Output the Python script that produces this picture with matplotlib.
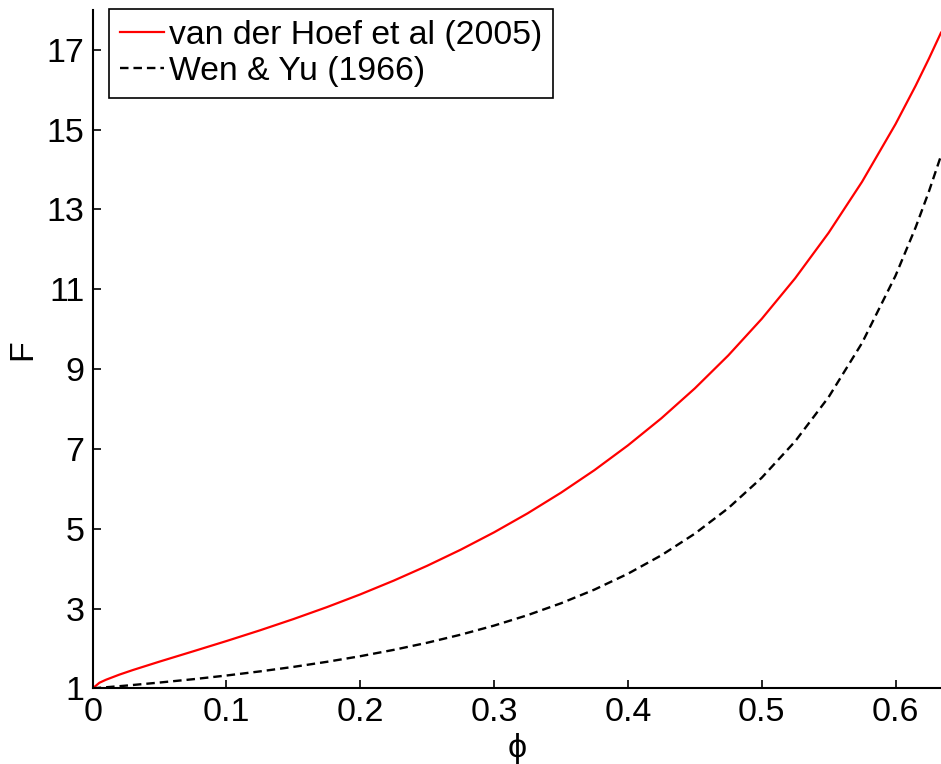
import numpy as np
import matplotlib.pyplot as plt

plt.rcParams['font.family'] = ['Liberation Sans', 'DejaVu Sans']

# Volume fraction values
phi = [0, 0.005, 0.01, 0.02, 0.03, 0.05, 0.075, 0.1, 0.125, 0.15, 0.175, 0.2,
       0.225, 0.25, 0.275, 0.3, 0.325, 0.35, 0.375, 0.4, 0.425, 0.45, 0.475,
       0.5, 0.525, 0.55, 0.575, 0.6, 0.615, 0.625, 0.634]

# Drag force ratio, van der Hoef et al (2005)
F_hoef = [1.00, 1.14, 1.217, 1.345, 1.459, 1.671, 1.927, 2.186, 2.454, 2.736,
          3.035, 3.355, 3.700, 4.072, 4.474, 4.910, 5.385, 5.903, 6.468, 7.088,
          7.767, 8.516, 9.342, 10.258, 11.276, 12.415, 13.694, 15.138, 16.098,
          16.782, 17.430]

# Wen & Yu (1966)
phi_wy = [0, 0.025, 0.05, 0.075, 0.1, 0.125, 0.15, 0.175, 0.2, 0.225, 0.25,
          0.275, 0.3, 0.325, 0.35, 0.375, 0.4, 0.425, 0.45, 0.475, 0.5, 0.525,
          0.55, 0.575, 0.6, 0.615, 0.625, 0.634]
F_wy = [1.0, 1.069, 1.146, 1.229, 1.322, 1.425, 1.538, 1.665, 1.806, 1.965,
        2.143, 2.345, 2.573, 2.834, 3.132, 3.475, 3.872, 4.334, 4.876, 5.515,
        6.277, 7.190, 8.298, 9.655, 11.339, 12.548, 13.454, 14.348]

yticks = [1, 3, 5, 7, 9, 11, 13, 15, 17]
xticks = [0, 0.1, 0.2, 0.3, 0.4, 0.5, 0.6]
xticklabels = ['0', '0.1', '0.2', '0.3', '0.4', '0.5', '0.6']

fig = plt.figure(figsize=(9.41, 7.64), dpi=100)
ax = fig.add_axes([0.0985, 0.099, 0.9015, 0.888])

ax.plot(phi, F_hoef, color='red', linewidth=1.6, label='van der Hoef et al (2005)')
ax.plot(phi_wy, F_wy, color='black', linewidth=1.7, linestyle=(0, (3.6, 2.1)),
        label='Wen & Yu (1966)')

ax.set_xlim(0, 0.634)
ax.set_ylim(1, 18)
ax.set_xticks(xticks)
ax.set_xticklabels(xticklabels)
ax.set_yticks(yticks)
ax.tick_params(direction='in', length=6, width=1.2, labelsize=24.5, pad=6)
ax.spines['top'].set_visible(False)
ax.spines['right'].set_visible(False)
ax.spines['left'].set_linewidth(1.5)
ax.spines['bottom'].set_linewidth(1.5)

ax.set_xlabel('ϕ', fontsize=24.5, labelpad=4)
ax.set_ylabel('F', fontsize=24.5, labelpad=6)

leg = ax.legend(loc='upper left', bbox_to_anchor=(0.0192, 1.002), borderaxespad=0,
                fontsize=24.3, fancybox=False, handlelength=1.3, handletextpad=0.15,
                labelspacing=0.15, borderpad=0.33)
leg.get_frame().set_edgecolor('black')
leg.get_frame().set_linewidth(1.2)
leg.get_frame().set_alpha(1)

fig.savefig('out.png', dpi=100)
